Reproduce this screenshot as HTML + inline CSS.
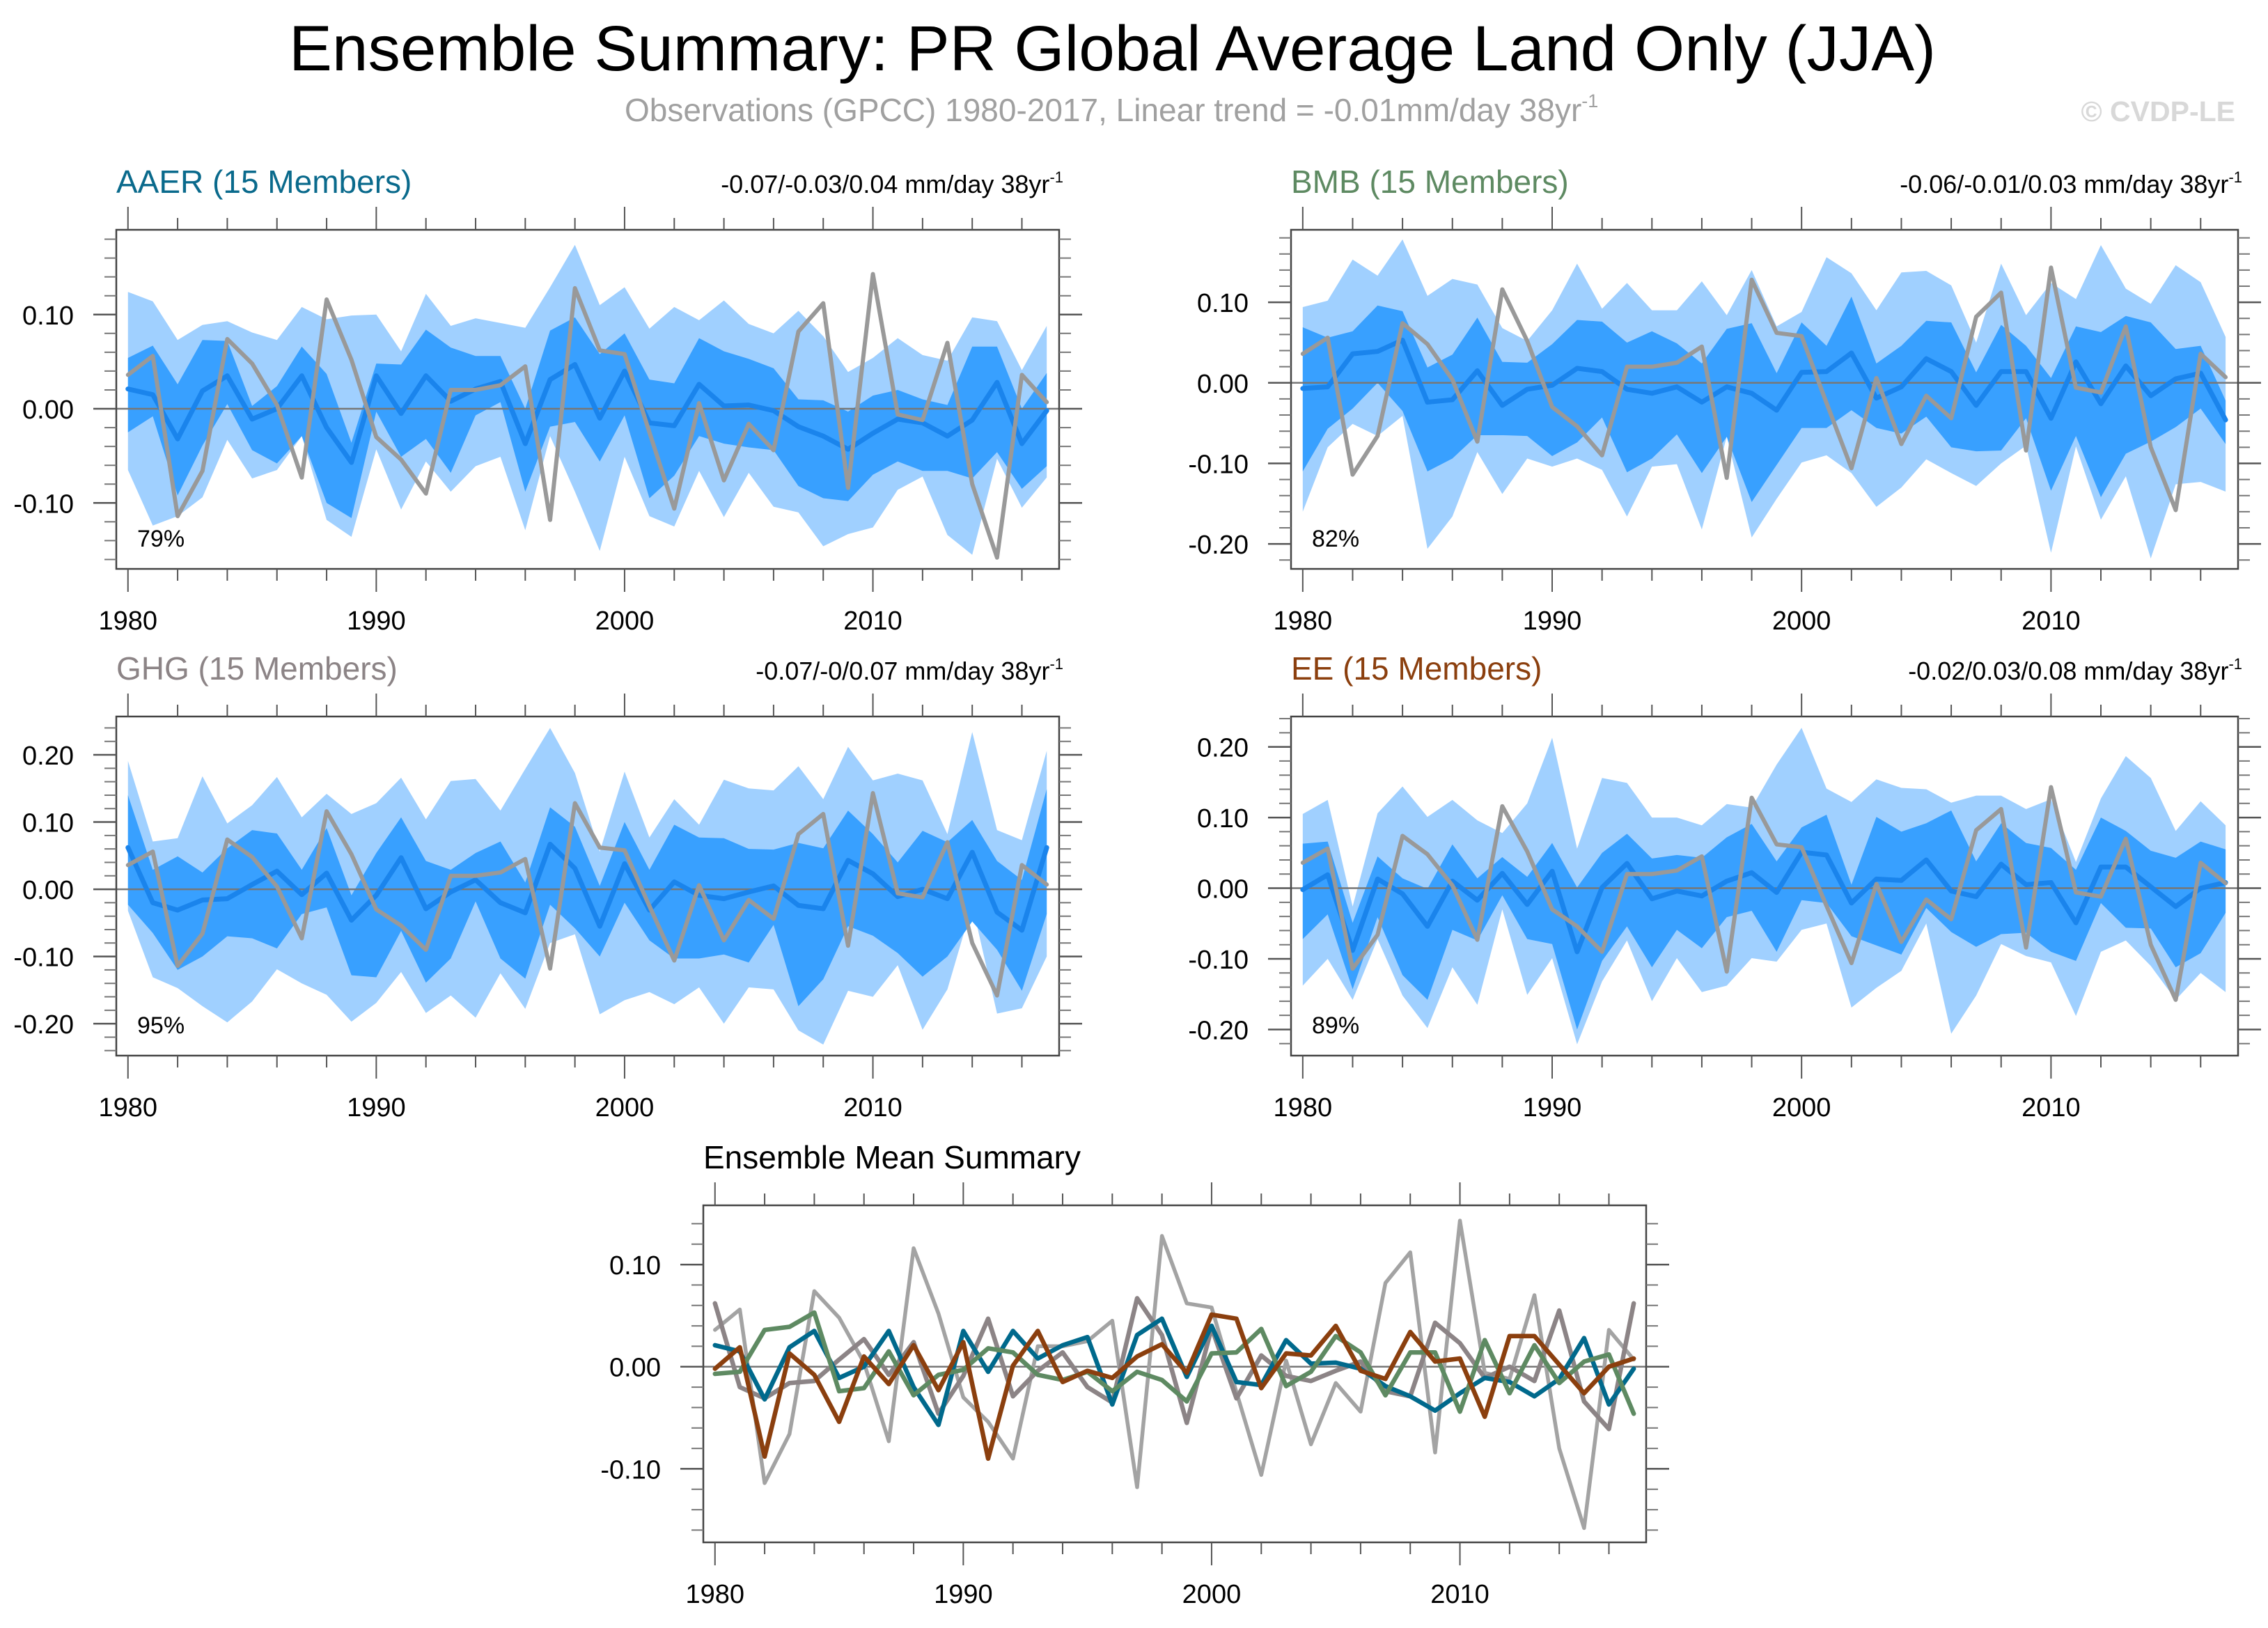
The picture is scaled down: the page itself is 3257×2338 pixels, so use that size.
<!DOCTYPE html>
<html><head><meta charset="utf-8"><title>Ensemble Summary</title>
<style>html,body{margin:0;padding:0;background:#fff}svg{display:block}text{font-family:"Liberation Sans",Arial,sans-serif}</style>
</head><body>
<svg id="chart" xmlns="http://www.w3.org/2000/svg" width="3257" height="2338" viewBox="0 0 3257 2338">
<rect width="3257" height="2338" fill="#fff"/>
<text x="415" y="101" font-size="92" fill="#000" textLength="2365" lengthAdjust="spacingAndGlyphs">Ensemble Summary: PR Global Average Land Only (JJA)</text>
<text x="897" y="174" font-size="46" fill="#a0a0a0">Observations (GPCC) 1980-2017, Linear trend = -0.01mm/day 38yr<tspan font-size="27" dy="-20">-1</tspan></text>
<text x="3210" y="174" font-size="41" font-weight="bold" fill="#d8d8d8" text-anchor="end">© CVDP-LE</text>
<g id="plots"></g>
</svg>
<script>
const years = [1980,1981,1982,1983,1984,1985,1986,1987,1988,1989,1990,1991,1992,1993,1994,1995,1996,1997,1998,1999,2000,2001,2002,2003,2004,2005,2006,2007,2008,2009,2010,2011,2012,2013,2014,2015,2016,2017];
const obs = [0.036,0.056,-0.114,-0.066,0.074,0.048,0.004,-0.073,0.116,0.052,-0.03,-0.054,-0.09,0.02,0.02,0.025,0.045,-0.118,0.128,0.062,0.058,-0.025,-0.106,0.006,-0.076,-0.016,-0.044,0.082,0.112,-0.084,0.143,-0.006,-0.012,0.07,-0.08,-0.158,0.036,0.007];

const aaerMean = [0.021,0.015,-0.032,0.019,0.035,-0.011,0.0,0.035,-0.02,-0.057,0.035,-0.005,0.035,0.008,0.021,0.029,-0.037,0.031,0.047,-0.01,0.04,-0.015,-0.018,0.026,0.003,0.004,-0.002,-0.019,-0.029,-0.043,-0.026,-0.011,-0.015,-0.029,-0.012,0.028,-0.037,-0.002];
const aaerDarkHi = [0.054,0.067,0.026,0.073,0.072,0.003,0.024,0.066,0.037,-0.036,0.048,0.047,0.084,0.065,0.056,0.056,0.0,0.083,0.097,0.058,0.08,0.031,0.027,0.075,0.061,0.053,0.043,0.01,0.009,-0.003,0.014,0.02,0.01,0.004,0.066,0.066,0.0,0.038];
const aaerDarkLo = [-0.025,-0.008,-0.092,-0.039,0.005,-0.044,-0.058,-0.029,-0.1,-0.116,-0.003,-0.051,-0.032,-0.068,-0.007,0.007,-0.088,-0.019,-0.014,-0.056,-0.007,-0.095,-0.071,-0.029,-0.037,-0.041,-0.044,-0.082,-0.095,-0.098,-0.07,-0.056,-0.066,-0.066,-0.074,-0.046,-0.085,-0.061];
const aaerLightHi = [0.124,0.114,0.073,0.089,0.093,0.081,0.073,0.108,0.095,0.099,0.1,0.061,0.122,0.088,0.096,0.091,0.086,0.129,0.174,0.11,0.129,0.085,0.108,0.094,0.115,0.09,0.08,0.104,0.077,0.039,0.054,0.075,0.057,0.051,0.097,0.093,0.041,0.088];
const aaerLightLo = [-0.065,-0.124,-0.114,-0.094,-0.033,-0.074,-0.065,-0.029,-0.118,-0.136,-0.043,-0.107,-0.056,-0.088,-0.061,-0.051,-0.129,-0.029,-0.088,-0.151,-0.051,-0.114,-0.125,-0.066,-0.115,-0.068,-0.104,-0.11,-0.146,-0.133,-0.126,-0.086,-0.072,-0.134,-0.155,-0.053,-0.105,-0.073];

const bmbMean = [-0.007,-0.005,0.036,0.039,0.053,-0.024,-0.021,0.015,-0.028,-0.008,-0.003,0.018,0.014,-0.008,-0.013,-0.005,-0.024,-0.005,-0.013,-0.034,0.013,0.014,0.037,-0.019,-0.005,0.03,0.014,-0.028,0.014,0.014,-0.044,0.026,-0.026,0.021,-0.016,0.005,0.012,-0.046];
const bmbDarkHi = [0.069,0.056,0.064,0.096,0.089,0.019,0.035,0.081,0.026,0.025,0.048,0.078,0.076,0.05,0.064,0.049,0.024,0.067,0.074,0.012,0.075,0.046,0.107,0.024,0.046,0.077,0.075,0.013,0.072,0.046,0.006,0.07,0.063,0.083,0.075,0.042,0.046,-0.022];
const bmbDarkLo = [-0.11,-0.057,-0.032,0.0,-0.035,-0.11,-0.094,-0.065,-0.065,-0.066,-0.091,-0.074,-0.043,-0.111,-0.094,-0.064,-0.112,-0.067,-0.148,-0.102,-0.056,-0.056,-0.034,-0.056,-0.063,-0.042,-0.08,-0.085,-0.084,-0.044,-0.134,-0.066,-0.142,-0.088,-0.073,-0.055,-0.032,-0.076];
const bmbLightHi = [0.094,0.102,0.153,0.133,0.178,0.108,0.129,0.122,0.068,0.052,0.09,0.148,0.092,0.124,0.09,0.09,0.126,0.084,0.14,0.07,0.088,0.156,0.136,0.09,0.137,0.139,0.121,0.05,0.148,0.084,0.124,0.104,0.171,0.117,0.098,0.146,0.125,0.057];
const bmbLightLo = [-0.16,-0.08,-0.051,-0.066,-0.041,-0.206,-0.166,-0.086,-0.138,-0.094,-0.104,-0.094,-0.108,-0.166,-0.104,-0.101,-0.182,-0.067,-0.192,-0.144,-0.099,-0.09,-0.112,-0.154,-0.13,-0.095,-0.112,-0.128,-0.1,-0.078,-0.211,-0.079,-0.17,-0.116,-0.218,-0.126,-0.123,-0.135];

const ghgMean = [0.062,-0.02,-0.031,-0.016,-0.014,0.007,0.027,-0.008,0.024,-0.046,-0.009,0.047,-0.029,-0.004,0.014,-0.02,-0.035,0.067,0.031,-0.055,0.038,-0.031,0.011,-0.009,-0.014,-0.004,0.005,-0.024,-0.029,0.043,0.023,-0.011,0.0,-0.014,0.055,-0.034,-0.061,0.062];
const ghgDarkHi = [0.14,0.029,0.049,0.025,0.061,0.088,0.083,0.029,0.091,-0.009,0.054,0.107,0.042,0.029,0.054,0.071,0.01,0.122,0.093,0.005,0.1,0.029,0.096,0.077,0.076,0.06,0.059,0.069,0.061,0.117,0.082,0.04,0.087,0.07,0.103,0.042,0.014,0.149];
const ghgDarkLo = [-0.023,-0.065,-0.12,-0.1,-0.07,-0.073,-0.088,-0.037,-0.027,-0.128,-0.131,-0.062,-0.139,-0.103,-0.018,-0.103,-0.133,-0.023,-0.058,-0.1,-0.02,-0.076,-0.103,-0.103,-0.097,-0.109,-0.053,-0.174,-0.134,-0.055,-0.069,-0.095,-0.13,-0.1,-0.048,-0.09,-0.151,-0.037];
const ghgLightHi = [0.191,0.071,0.076,0.168,0.098,0.125,0.167,0.107,0.142,0.112,0.128,0.166,0.104,0.161,0.164,0.117,0.179,0.24,0.173,0.056,0.175,0.077,0.134,0.096,0.163,0.15,0.147,0.183,0.134,0.212,0.162,0.172,0.162,0.082,0.234,0.088,0.073,0.206];
const ghgLightLo = [-0.032,-0.131,-0.147,-0.174,-0.198,-0.167,-0.119,-0.14,-0.157,-0.197,-0.169,-0.123,-0.184,-0.158,-0.191,-0.125,-0.178,-0.08,-0.067,-0.186,-0.165,-0.153,-0.171,-0.146,-0.2,-0.146,-0.149,-0.21,-0.231,-0.151,-0.16,-0.113,-0.209,-0.149,-0.023,-0.185,-0.177,-0.1];

const eeMean = [-0.002,0.019,-0.088,0.013,-0.008,-0.054,0.01,-0.017,0.021,-0.023,0.024,-0.09,0.001,0.035,-0.015,-0.004,-0.011,0.01,0.022,-0.006,0.051,0.047,-0.021,0.013,0.011,0.04,-0.004,-0.012,0.034,0.005,0.008,-0.049,0.03,0.03,0.002,-0.026,0.0,0.008];
const eeDarkHi = [0.063,0.066,-0.049,0.045,0.014,-0.001,0.062,0.014,0.044,0.016,0.064,0.001,0.05,0.077,0.042,0.047,0.043,0.072,0.091,0.038,0.086,0.104,0.005,0.101,0.08,0.092,0.11,0.038,0.092,0.064,0.057,0.026,0.1,0.081,0.053,0.043,0.066,0.055];
const eeDarkLo = [-0.072,-0.037,-0.143,-0.041,-0.123,-0.158,-0.059,-0.074,-0.01,-0.072,-0.079,-0.2,-0.103,-0.054,-0.112,-0.059,-0.085,-0.041,-0.032,-0.09,-0.017,-0.021,-0.068,-0.081,-0.094,-0.028,-0.062,-0.083,-0.065,-0.063,-0.09,-0.103,-0.021,-0.056,-0.057,-0.112,-0.092,-0.035];
const eeLightHi = [0.105,0.125,-0.026,0.106,0.144,0.101,0.125,0.096,0.078,0.12,0.213,0.056,0.156,0.149,0.1,0.1,0.089,0.119,0.114,0.175,0.227,0.141,0.122,0.154,0.142,0.14,0.121,0.131,0.131,0.112,0.126,0.037,0.127,0.187,0.156,0.081,0.123,0.089];
const eeLightLo = [-0.138,-0.1,-0.158,-0.072,-0.152,-0.198,-0.112,-0.165,-0.03,-0.151,-0.099,-0.221,-0.132,-0.074,-0.16,-0.099,-0.147,-0.138,-0.099,-0.104,-0.059,-0.05,-0.169,-0.141,-0.117,-0.05,-0.206,-0.152,-0.079,-0.096,-0.105,-0.181,-0.09,-0.074,-0.11,-0.158,-0.12,-0.147];

const yTicksAAER = [0.1,0.0,-0.1];
const yTicksBMB = [0.1,0.0,-0.1,-0.2];
const yTicksGHG = [0.2,0.1,0.0,-0.1,-0.2];
const yTicksEE = [0.2,0.1,0.0,-0.1,-0.2];
const yTicksMean = [0.1,0.0,-0.1];
const xTickLabels = [1980,1990,2000,2010];
const trendAAER = "-0.07/-0.03/0.04 mm/day 38yr";
const trendBMB = "-0.06/-0.01/0.03 mm/day 38yr";
const trendGHG = "-0.07/-0/0.07 mm/day 38yr";
const trendEE = "-0.02/0.03/0.08 mm/day 38yr";

const NS = "http://www.w3.org/2000/svg";
const root = document.getElementById('plots');
function mk(tag, attrs, parent){
  const e = document.createElementNS(NS, tag);
  for (const k in attrs) e.setAttribute(k, attrs[k]);
  (parent||root).appendChild(e);
  return e;
}
function fmt(v){ const s = Math.abs(v).toFixed(2); return (v < -1e-9 ? "-" : "") + s; }

let clipId = 0;
function drawPanel(p){
  const g = mk('g', {});
  
  
  const X0 = 1979.53, X1 = 2017.5;
  const xs = yr => p.x0 + (yr - X0) / (X1 - X0) * (p.x1 - p.x0);
  const ys = v => p.y1 - (v - p.vmin) / (p.vmax - p.vmin) * (p.y1 - p.y0);
  clipId++;
  const cp = mk('clipPath', {id: 'clip' + clipId}, g);
  mk('rect', {x: p.x0, y: p.y0, width: p.x1 - p.x0, height: p.y1 - p.y0}, cp);
  const inner = mk('g', {'clip-path': 'url(#clip' + clipId + ')'}, g);

  function band(hi, lo, color, nm){
    let pts = [];
    for (let i = 0; i < years.length; i++) pts.push(xs(years[i]) + ',' + ys(hi[i]));
    for (let i = years.length - 1; i >= 0; i--) pts.push(xs(years[i]) + ',' + ys(lo[i]));
    const pg = mk('polygon', {points: pts.join(' '), fill: color}, inner);
    
    
  }
  function line(vals, color, w, nm){
    const pts = vals.map((v, i) => xs(years[i]) + ',' + ys(v)).join(' ');
    const pl = mk('polyline', {points: pts, fill: 'none', stroke: color, 'stroke-width': w, 'stroke-linejoin': 'round', 'stroke-linecap': 'round'}, inner);
    
    
  }
  if (p.lightHi){
    band(p.lightHi, p.lightLo, '#a0d0ff', p.name + '-outer-spread-band');
    band(p.darkHi, p.darkLo, '#38a0ff', p.name + '-inner-spread-band');
  }
  const zl = mk('line', {x1: p.x0, x2: p.x1, y1: ys(0), y2: ys(0), stroke: '#777', 'stroke-width': 2.5}, inner);
  
  
  if (p.lightHi){
    line(p.mean, '#1a84ec', 7, p.name + '-ensemble-mean-line');
    line(obs, '#999999', 6, p.name + '-observations-line');
  } else {
    line(obs, '#a3a3a3', 5.5, 'obs-line');
    line(ghgMean, '#8c8486', 6.5, 'ghg-mean-line');
    line(aaerMean, '#00698c', 6.5, 'aaer-mean-line');
    line(bmbMean, '#5e8a62', 6.5, 'bmb-mean-line');
    line(eeMean, '#8b3f0e', 6.5, 'ee-mean-line');
  }
  const box = mk('rect', {x: p.x0, y: p.y0, width: p.x1 - p.x0, height: p.y1 - p.y0, fill: 'none', stroke: '#444', 'stroke-width': 2.5}, g);
  
  

  for (let yr = 1980; yr <= 2017; yr += 2){
    const major = (yr % 10 === 0);
    const L = major ? 33 : 17;
    const x = xs(yr);
    mk('line', {x1: x, x2: x, y1: p.y0, y2: p.y0 - L, stroke: '#555', 'stroke-width': 2}, g);
    mk('line', {x1: x, x2: x, y1: p.y1, y2: p.y1 + L, stroke: '#555', 'stroke-width': 2}, g);
  }
  xTickLabels.forEach(yr => {
    const t = mk('text', {x: xs(yr), y: p.y1 + 87, 'font-size': 38, 'text-anchor': 'middle', fill: '#000'}, g);
    
    
    t.textContent = yr;
  });
  const start = Math.ceil(p.vmin / 0.02 - 1e-6);
  const end = Math.floor(p.vmax / 0.02 + 1e-6);
  for (let k = start; k <= end; k++){
    const y = ys(k * 0.02);
    mk('line', {x1: p.x0, x2: p.x0 - 17, y1: y, y2: y, stroke: '#777', 'stroke-width': 2}, g);
    mk('line', {x1: p.x1, x2: p.x1 + 17, y1: y, y2: y, stroke: '#777', 'stroke-width': 2}, g);
  }
  p.yticks.forEach(v => {
    const y = ys(v);
    mk('line', {x1: p.x0, x2: p.x0 - 33, y1: y, y2: y, stroke: '#555', 'stroke-width': 2.5}, g);
    mk('line', {x1: p.x1, x2: p.x1 + 33, y1: y, y2: y, stroke: '#555', 'stroke-width': 2.5}, g);
    const t = mk('text', {x: p.x0 - 61, y: y + 14, 'font-size': 38, 'text-anchor': 'end', fill: '#000'}, g);
    
    
    t.textContent = fmt(v);
  });
  const tt = mk('text', {x: p.x0, y: p.y0 - 53, 'font-size': 46, fill: p.titleColor}, g);
  
  
  tt.textContent = p.title;
  if (p.trend){
    const tr = mk('text', {x: p.x1 + 6, y: p.y0 - 53, 'font-size': 36, 'text-anchor': 'end', fill: '#000'}, g);
    
    
    tr.textContent = p.trend;
    const sup = mk('tspan', {'font-size': 22, dy: -15}, tr);
    sup.textContent = '-1';
  }
  if (p.pct){
    const pc = mk('text', {x: p.x0 + 30, y: p.y1 - 32, 'font-size': 34, fill: '#000'}, g);
    
    
    pc.textContent = p.pct;
  }
}

drawPanel({name:'aaer', x0:167, x1:1521, y0:330, y1:817, vmin:-0.17, vmax:0.19, yticks:yTicksAAER,
  mean:aaerMean, darkHi:aaerDarkHi, darkLo:aaerDarkLo, lightHi:aaerLightHi, lightLo:aaerLightLo,
  title:'AAER (15 Members)', titleColor:'#0a6a8c', trend:trendAAER, pct:'79%'});
drawPanel({name:'bmb', x0:1854, x1:3214, y0:330, y1:817, vmin:-0.231, vmax:0.19, yticks:yTicksBMB,
  mean:bmbMean, darkHi:bmbDarkHi, darkLo:bmbDarkLo, lightHi:bmbLightHi, lightLo:bmbLightLo,
  title:'BMB (15 Members)', titleColor:'#5e8a62', trend:trendBMB, pct:'82%'});
drawPanel({name:'ghg', x0:167, x1:1521, y0:1029, y1:1516, vmin:-0.2475, vmax:0.257, yticks:yTicksGHG,
  mean:ghgMean, darkHi:ghgDarkHi, darkLo:ghgDarkLo, lightHi:ghgLightHi, lightLo:ghgLightLo,
  title:'GHG (15 Members)', titleColor:'#8c8486', trend:trendGHG, pct:'95%'});
drawPanel({name:'ee', x0:1854, x1:3214, y0:1029, y1:1516, vmin:-0.237, vmax:0.243, yticks:yTicksEE,
  mean:eeMean, darkHi:eeDarkHi, darkLo:eeDarkLo, lightHi:eeLightHi, lightLo:eeLightLo,
  title:'EE (15 Members)', titleColor:'#8b3f0e', trend:trendEE, pct:'89%'});
drawPanel({name:'ensemble-mean-summary', x0:1010, x1:2364, y0:1731, y1:2215, vmin:-0.172, vmax:0.158, yticks:yTicksMean,
  title:'Ensemble Mean Summary', titleColor:'#000'});
</script>
</body></html>
